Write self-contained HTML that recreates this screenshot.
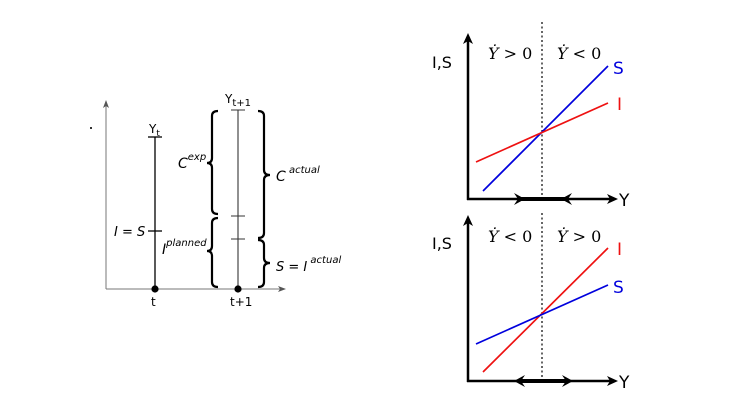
<!DOCTYPE html>
<html><head><meta charset="utf-8"><style>
html,body{margin:0;padding:0;background:#fff;}
svg{display:block;}
text{font-family:"DejaVu Sans","Liberation Sans",sans-serif;}
.it{font-family:"DejaVu Serif","Liberation Serif",serif;font-style:italic;}
.si{font-family:"DejaVu Sans","Liberation Sans",sans-serif;font-style:oblique;}
</style></head><body>
<svg width="755" height="409" viewBox="0 0 755 409" xmlns="http://www.w3.org/2000/svg">
<rect x="90" y="127" width="2" height="2" fill="#333"/>
<g stroke="#777" stroke-width="1" fill="none">
<line x1="106" y1="104" x2="106" y2="289"/>
<line x1="106" y1="289" x2="282" y2="289"/>
</g>
<path d="M106,100 L103,108 L106,106 L109,108 Z" fill="#555"/>
<path d="M286,289 L278,286 L280,289 L278,292 Z" fill="#555"/>
<g stroke="#000" stroke-width="1.3" fill="none">
<line x1="155" y1="137" x2="155" y2="289"/>
<line x1="148" y1="137" x2="162" y2="137"/>
<line x1="148" y1="231" x2="162" y2="231"/>
</g>
<line x1="238" y1="110" x2="238" y2="289" stroke="#555" stroke-width="1.3"/>
<g stroke="#333" stroke-width="1" fill="none">
<line x1="231" y1="110" x2="245" y2="110"/>
<line x1="231" y1="216" x2="245" y2="216"/>
<line x1="231" y1="239" x2="245" y2="239"/>
</g>
<circle cx="155" cy="289" r="3.6" fill="#000"/>
<circle cx="238" cy="289" r="3.6" fill="#000"/>
<g stroke="#000" stroke-width="2.2" fill="none">
<path d="M218,111 Q212,111 212,116 L212,158 Q212,163 207,163 Q212,163 212,168 L212,209 Q212,214 218,214"/>
<path d="M218,218 Q212,218 212,223 L212,246 Q212,251 207,251 Q212,251 212,256 L212,282 Q212,287 218,287"/>
<path d="M258,111 Q264,111 264,116 L264,170 Q264,175 270,175 Q264,175 264,180 L264,233 Q264,238 258,238"/>
<path d="M258,240 Q264,240 264,245 L264,258 Q264,263 270,263 Q264,263 264,268 L264,282 Q264,287 258,287"/>
</g>
<g font-size="12" fill="#000">
<text x="149" y="133">Y<tspan font-size="9" dy="3">t</tspan></text>
<text x="225" y="103">Y<tspan font-size="10" dy="3">t+1</tspan></text>
<text x="151" y="306">t</text>
<text x="230" y="306">t+1</text>
<text class="si" x="114" y="236" font-size="13">I = S</text>
<text class="si" x="178" y="168" font-size="14">C<tspan font-size="10" dy="-8">exp</tspan></text>
<text class="si" x="162" y="254" font-size="14">I<tspan font-size="10" dy="-8">planned</tspan></text>
<text class="si" x="276" y="181" font-size="14">C<tspan font-size="10" dy="-8"> actual</tspan></text>
<text class="si" x="276" y="271" font-size="13">S = I<tspan font-size="10" dy="-8"> actual</tspan></text>
</g>
<g stroke="#000" stroke-width="2.5" fill="none">
<line x1="468" y1="40" x2="468" y2="200"/>
<line x1="467" y1="199" x2="611" y2="199"/>
</g>
<path d="M468,33 L463,44 L468,41 L473,44 Z"/>
<path d="M618,199 L607,194 L610,199 L607,204 Z"/>
<line x1="518" y1="199" x2="568" y2="199" stroke="#000" stroke-width="4"/>
<path d="M525,199 L514,193 L518,199 L514,205 Z"/>
<path d="M561,199 L572,193 L568,199 L572,205 Z"/>
<line x1="542" y1="22" x2="542" y2="195" stroke="#000" stroke-width="1.2" stroke-dasharray="2,2.5"/>
<line x1="483" y1="191" x2="608" y2="66" stroke="#0000dd" stroke-width="1.7"/>
<line x1="476" y1="162" x2="608" y2="103" stroke="#ee1111" stroke-width="1.7"/>
<text x="432" y="68" font-size="16">I,S</text>
<text x="619" y="206" font-size="17">Y</text>
<text x="613" y="74" font-size="17" fill="#0000dd">S</text>
<text x="617" y="110" font-size="17" fill="#ee1111">I</text>
<text class="it" x="488" y="59" font-size="16">Ẏ <tspan font-style="normal">&gt; 0</tspan></text>
<text class="it" x="557" y="59" font-size="16">Ẏ <tspan font-style="normal">&lt; 0</tspan></text>
<g stroke="#000" stroke-width="2.5" fill="none">
<line x1="468" y1="222" x2="468" y2="382"/>
<line x1="467" y1="381" x2="611" y2="381"/>
</g>
<path d="M468,215 L463,226 L468,223 L473,226 Z"/>
<path d="M618,381 L607,376 L610,381 L607,386 Z"/>
<line x1="520" y1="381" x2="567" y2="381" stroke="#000" stroke-width="4"/>
<path d="M514,381 L525,375 L521,381 L525,387 Z"/>
<path d="M573,381 L562,375 L566,381 L562,387 Z"/>
<line x1="542" y1="213" x2="542" y2="378" stroke="#000" stroke-width="1.2" stroke-dasharray="2,2.5"/>
<line x1="483" y1="372" x2="608" y2="248" stroke="#ee1111" stroke-width="1.7"/>
<line x1="476" y1="344" x2="608" y2="285" stroke="#0000dd" stroke-width="1.7"/>
<text x="432" y="249" font-size="16">I,S</text>
<text x="619" y="388" font-size="17">Y</text>
<text x="617" y="255" font-size="17" fill="#ee1111">I</text>
<text x="613" y="293" font-size="17" fill="#0000dd">S</text>
<text class="it" x="488" y="242" font-size="16">Ẏ <tspan font-style="normal">&lt; 0</tspan></text>
<text class="it" x="557" y="242" font-size="16">Ẏ <tspan font-style="normal">&gt; 0</tspan></text>
</svg>
</body></html>
